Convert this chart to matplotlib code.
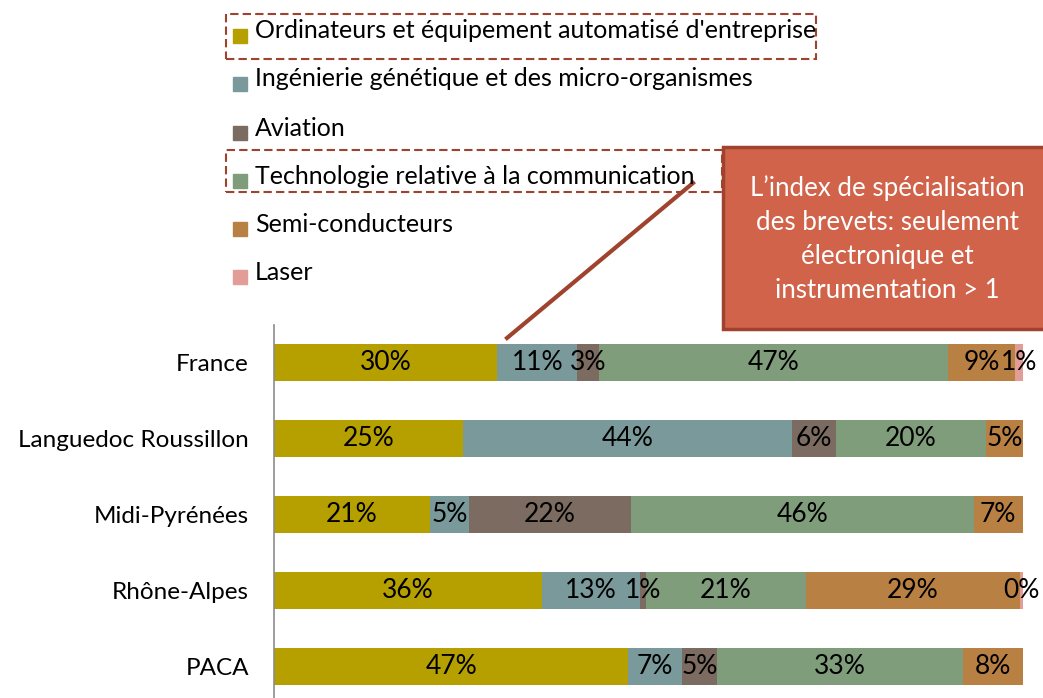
import matplotlib.pyplot as plt
from matplotlib.patches import Rectangle
from matplotlib.lines import Line2D

plt.rcParams['font.family'] = ['Lato', 'DejaVu Sans']

regions = ['France', 'Languedoc Roussillon', 'Midi-Pyrénées', 'Rhône-Alpes', 'PACA']
series = ["Ordinateurs et équipement automatisé d'entreprise",
          'Ingénierie génétique et des micro-organismes',
          'Aviation',
          'Technologie relative à la communication',
          'Semi-conducteurs',
          'Laser']
colors = ['#B5A000', '#7A999B', '#7B6B60', '#7F9C7B', '#B98043', '#E29D96']

ordinateurs = [29.8, 25.2, 20.8, 35.8, 47.3]
genetique = [10.7, 43.9, 5.2, 13.1, 7.2]
aviation = [2.9, 5.9, 21.7, 0.7, 4.6]
communication = [46.6, 20.1, 45.7, 21.4, 32.9]
semi = [8.9, 4.9, 6.6, 28.6, 8.0]
laser = [1.1, 0.0, 0.0, 0.4, 0.0]
values = [ordinateurs, genetique, aviation, communication, semi, laser]

W, H = 1043, 698
fig = plt.figure(figsize=(W / 100, H / 100), dpi=100)

def fx(px):
    return px / W

def fy(py):
    return 1 - py / H

ax = fig.add_axes([fx(274), fy(704), fx(1023) - fx(274), fy(325) - fy(704)])

y = list(range(len(regions)))
left = [0] * len(regions)
for vals, col in zip(values, colors):
    bars = ax.barh(y, vals, left=left, height=0.49, color=col)
    labels = ['' if v == 0 else f'{v:.0f}%' for v in vals]
    ax.bar_label(bars, labels=labels, label_type='center', fontsize=19, color='black')
    left = [l + v for l, v in zip(left, vals)]

ax.set_xlim(0, 100)
ax.set_ylim(len(regions) - 0.5, -0.5)
ax.set_yticks(y)
ax.set_yticklabels(regions, fontsize=17.5)
ax.tick_params(axis='y', length=0, pad=18)
ax.set_xticks([])
for s in ['top', 'right', 'bottom']:
    ax.spines[s].set_visible(False)
ax.spines['left'].set_color('#8C8C8C')
ax.spines['left'].set_linewidth(1.2)

# legend, drawn by hand to keep the wide row spacing
row_y = [31, 79, 128, 176, 224, 272]
for name, col, ry in zip(series, colors, row_y):
    fig.patches.append(Rectangle((fx(233), fy(ry + 12)), fx(14), fy(ry - 2) - fy(ry + 12),
                                 transform=fig.transFigure, color=col))
    fig.text(fx(255), fy(ry), name, fontsize=18, va='center', ha='left')

red = '#A0432E'
for (x0, y0, x1, y1) in [(226, 14, 816, 59), (226, 150, 722, 192)]:
    fig.patches.append(Rectangle((fx(x0), fy(y1)), fx(x1 - x0), fy(y0) - fy(y1),
                                 transform=fig.transFigure, fill=False,
                                 edgecolor=red, linestyle=(0, (4, 2)), linewidth=1.5))

# callout
fig.lines.append(Line2D([fx(693), fx(507)], [fy(183), fy(338)], transform=fig.transFigure,
                        color=red, linewidth=3))
fig.patches.append(Rectangle((fx(723), fy(329)), fx(340), fy(147) - fy(329),
                             transform=fig.transFigure, facecolor='#D0634A',
                             edgecolor=red, linewidth=2.5))
fig.text(fx(887), fy(239),
         "L’index de spécialisation\ndes brevets: seulement\nélectronique et\ninstrumentation > 1",
         color='white', fontsize=18.6, ha='center', va='center', linespacing=1.45)

fig.savefig('out.png', dpi=100)
